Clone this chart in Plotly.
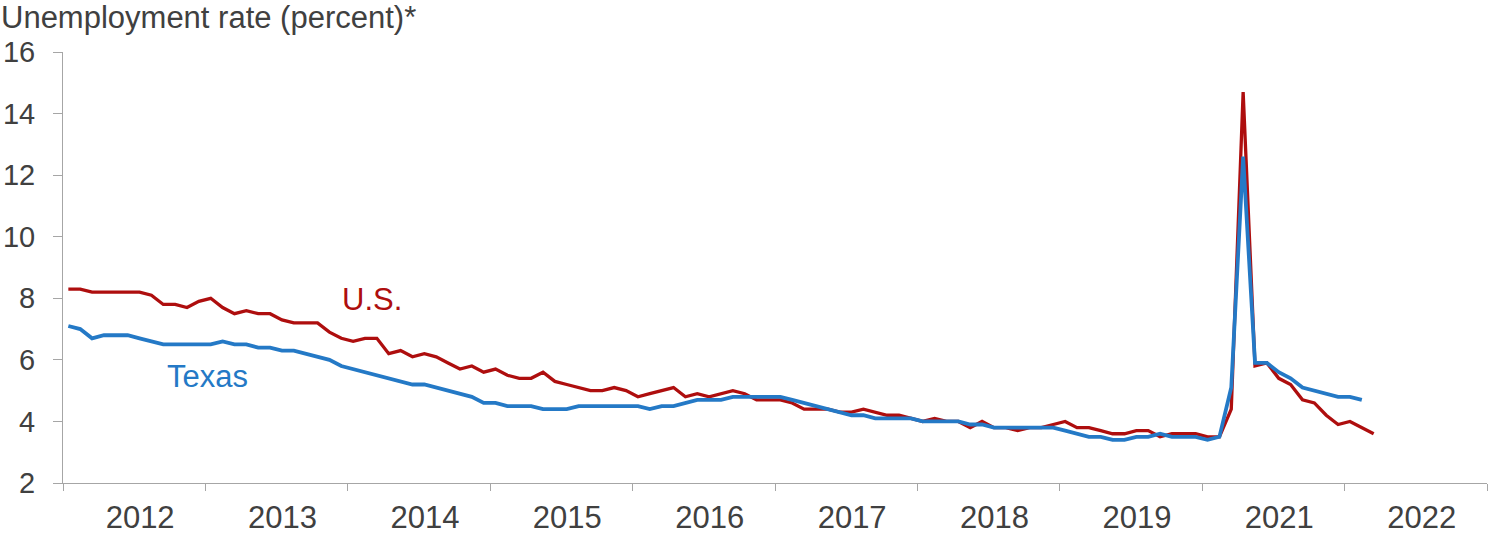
import plotly.graph_objects as go

# ---- data ----
year_labels = ["2012", "2013", "2014", "2015", "2016", "2017", "2018", "2019", "2021", "2022"]

us_rate = [
    8.3, 8.3, 8.2, 8.2, 8.2, 8.2, 8.2, 8.1, 7.8, 7.8, 7.7, 7.9,
    8.0, 7.7, 7.5, 7.6, 7.5, 7.5, 7.3, 7.2, 7.2, 7.2, 6.9, 6.7,
    6.6, 6.7, 6.7, 6.2, 6.3, 6.1, 6.2, 6.1, 5.9, 5.7, 5.8, 5.6,
    5.7, 5.5, 5.4, 5.4, 5.6, 5.3, 5.2, 5.1, 5.0, 5.0, 5.1, 5.0,
    4.8, 4.9, 5.0, 5.1, 4.8, 4.9, 4.8, 4.9, 5.0, 4.9, 4.7, 4.7,
    4.7, 4.6, 4.4, 4.4, 4.4, 4.3, 4.3, 4.4, 4.3, 4.2, 4.2, 4.1,
    4.0, 4.1, 4.0, 4.0, 3.8, 4.0, 3.8, 3.8, 3.7, 3.8, 3.8, 3.9,
    4.0, 3.8, 3.8, 3.7, 3.6, 3.6, 3.7, 3.7, 3.5, 3.6, 3.6, 3.6,
    3.5, 3.5, 4.4, 14.7,
    5.8, 5.9, 5.4, 5.2, 4.7, 4.6, 4.2, 3.9, 4.0, 3.8, 3.6,
]

texas_rate = [
    7.1, 7.0, 6.7, 6.8, 6.8, 6.8, 6.7, 6.6, 6.5, 6.5, 6.5, 6.5,
    6.5, 6.6, 6.5, 6.5, 6.4, 6.4, 6.3, 6.3, 6.2, 6.1, 6.0, 5.8,
    5.7, 5.6, 5.5, 5.4, 5.3, 5.2, 5.2, 5.1, 5.0, 4.9, 4.8, 4.6,
    4.6, 4.5, 4.5, 4.5, 4.4, 4.4, 4.4, 4.5, 4.5, 4.5, 4.5, 4.5,
    4.5, 4.4, 4.5, 4.5, 4.6, 4.7, 4.7, 4.7, 4.8, 4.8, 4.8, 4.8,
    4.8, 4.7, 4.6, 4.5, 4.4, 4.3, 4.2, 4.2, 4.1, 4.1, 4.1, 4.1,
    4.0, 4.0, 4.0, 4.0, 3.9, 3.9, 3.8, 3.8, 3.8, 3.8, 3.8, 3.8,
    3.7, 3.6, 3.5, 3.5, 3.4, 3.4, 3.5, 3.5, 3.6, 3.5, 3.5, 3.5,
    3.4, 3.5, 5.1, 12.6,
    5.9, 5.9, 5.6, 5.4, 5.1, 5.0, 4.9, 4.8, 4.8, 4.7,
]

y_ticks = [2, 4, 6, 8, 10, 12, 14, 16]

us_x = list(range(len(us_rate)))
tx_x = list(range(len(texas_rate)))

RED = "#AE0E0E"
BLUE = "#2479C6"
TEXT = "#404040"
AXIS = "#A6A6A6"

X0 = -0.45
per_cat = 12
boundaries = [X0 + per_cat * k for k in range(len(year_labels) + 1)]
label_pos = [X0 + per_cat * k + 6.5 for k in range(len(year_labels))]

FIG_W, FIG_H = 1490, 534
ML, MR, MT, MB = 63, 3, 52, 51
plot_w = FIG_W - ML - MR

fig = go.Figure()
fig.add_trace(go.Scatter(x=us_x, y=us_rate, mode="lines",
                         line=dict(color=RED, width=3.3), name="U.S.",
                         hoverinfo="skip"))
fig.add_trace(go.Scatter(x=tx_x, y=texas_rate, mode="lines",
                         line=dict(color=BLUE, width=3.8), name="Texas",
                         hoverinfo="skip"))

fig.update_layout(
    width=FIG_W, height=FIG_H,
    margin=dict(l=ML, r=MR, t=MT, b=MB, autoexpand=False),
    plot_bgcolor="white", paper_bgcolor="white",
    showlegend=False,
    font=dict(family="Liberation Sans, Arial, sans-serif", color=TEXT),
)

fig.update_xaxes(
    range=[X0, X0 + per_cat * len(year_labels)],
    tickmode="array", tickvals=label_pos, ticktext=year_labels,
    ticks="", showline=True, linecolor=AXIS, linewidth=1,
    showgrid=False, zeroline=False,
    tickfont=dict(size=31, color=TEXT),
    ticklabelstandoff=7,
    minor=dict(tickmode="array", tickvals=boundaries, ticks="outside",
               ticklen=7, tickcolor=AXIS, tickwidth=1, showgrid=False),
)
fig.update_yaxes(
    range=[2, 16], tickmode="array", tickvals=y_ticks,
    ticks="outside", ticklen=9, tickcolor=AXIS, tickwidth=1,
    showline=True, linecolor=AXIS, linewidth=1,
    showgrid=False, zeroline=False,
    tickfont=dict(size=29, color=TEXT),
    ticklabelstandoff=12,
)

fig.add_annotation(text="Unemployment rate (percent)*", xref="paper", yref="paper",
                   x=-ML / plot_w, y=1.036, xanchor="left", yanchor="bottom",
                   borderpad=0, showarrow=False, font=dict(size=31, color=TEXT))
fig.add_annotation(text="U.S.", x=25.6, y=7.95, xref="x", yref="y",
                   xanchor="center", yanchor="middle", showarrow=False,
                   font=dict(size=31, color=RED))
fig.add_annotation(text="Texas", x=11.7, y=5.46, xref="x", yref="y",
                   xanchor="center", yanchor="middle", showarrow=False,
                   font=dict(size=31, color=BLUE))

fig.write_html("out.html", config={"displayModeBar": False},
               post_script="document.body.style.margin='0';")
